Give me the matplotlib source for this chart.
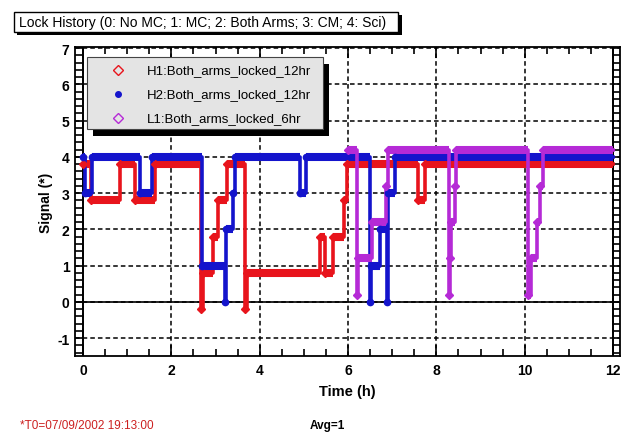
import numpy as np
import matplotlib
matplotlib.use("Agg")
import matplotlib.pyplot as plt
from matplotlib.patches import Rectangle
from matplotlib.ticker import MultipleLocator

plt.rcParams['font.family'] = ['Liberation Sans', 'DejaVu Sans']
plt.rcParams['axes.unicode_minus'] = False

# lock state changes: time (h) and the state entered at that time
h1_t = [0.0, 0.18, 0.84, 1.18, 1.63, 2.67, 2.71, 2.94, 3.06, 3.26, 3.67, 3.72,
        5.37, 5.49, 5.66, 5.90, 5.97, 7.58, 7.75]
h1_state = [4, 3, 4, 3, 4, 0, 1, 2, 3, 4, 0, 1, 2, 1, 2, 3, 4, 3, 4]

h2_t = [0.0, 0.05, 0.20, 1.29, 1.56, 2.69, 3.21, 3.23, 3.39, 3.44, 4.91, 5.05,
        6.50, 6.52, 6.72, 6.88, 6.90, 7.06]
h2_state = [4, 3, 4, 3, 4, 1, 0, 2, 3, 4, 3, 4, 0, 1, 2, 0, 3, 4]

l1_t = [6.0, 6.20, 6.23, 6.55, 6.85, 6.90, 8.29, 8.31, 8.34, 8.42, 8.45,
        10.07, 10.15, 10.28, 10.35, 10.41]
l1_state = [4, 0, 1, 2, 3, 4, 0, 1, 2, 3, 4, 0, 1, 2, 3, 4]

t_end = 12.0
series_names = ['H1:Both_arms_locked_12hr', 'H2:Both_arms_locked_12hr',
                'L1:Both_arms_locked_6hr']
shifts = [-0.2, 0.0, 0.2]   # small vertical offsets so the traces don't hide each other
colors = ['#e8141c', '#1414cc', '#b52ad6']
markers = ['D', 'o', 'D']

W, H = 623, 435
fig = plt.figure(figsize=(W / 100, H / 100), dpi=100)


def fx(px):
    return px / W


def fy(py):
    return 1 - py / H


ax = fig.add_axes([fx(75), fy(357), fx(620) - fx(75), fy(48) - fy(357)])
ax.set_xlim(-0.181, 12.158)
ax.set_ylim(-1.49, 7.03)


def draw_lock(times, states, shift, color, marker):
    t = np.append(times, t_end)
    v = np.append(states, states[-1]) + shift
    ax.plot(t, v, drawstyle='steps-post', color=color, lw=2.6, zorder=3)
    ax.hlines(v[:-1], t[:-1], t[1:], color=color, lw=5.8, zorder=3)
    ax.plot(times, np.array(states) + shift, ls='none', marker=marker, ms=4.5,
            color=color, zorder=4)


for tt, ss, sh, c, m in zip([h1_t, h2_t, l1_t], [h1_state, h2_state, l1_state],
                            shifts, colors, markers):
    draw_lock(tt, ss, sh, c, m)

# grid, with solid lines at the axis origin
ax.xaxis.set_major_locator(MultipleLocator(2))
ax.xaxis.set_minor_locator(MultipleLocator(0.5))
ax.yaxis.set_major_locator(MultipleLocator(1))
ax.yaxis.set_minor_locator(MultipleLocator(0.2))
ax.grid(True, color='black', ls=(0, (3, 2)), lw=1.1, zorder=1)
ax.axhline(0, color='black', lw=1.2, zorder=2)
ax.axvline(0, color='black', lw=1.4, zorder=2)
ax.axvline(12, color='black', lw=1.4, zorder=2)

ax.tick_params(axis='x', which='both', direction='in', top=True, width=1.2,
               labelsize=10, pad=5)
ax.tick_params(axis='x', which='major', length=8)
ax.tick_params(axis='x', which='minor', length=5)
ax.tick_params(axis='y', which='both', direction='in', right=True, length=5.8,
               width=1.2, labelsize=10, pad=4)
for lab in ax.get_xticklabels() + ax.get_yticklabels():
    lab.set_fontweight('bold')
for sp in ax.spines.values():
    sp.set_linewidth(1.3)

ax.set_xlabel('Time (h)', fontsize=10.5, fontweight='bold', labelpad=5)
ax.set_ylabel('Signal (*)', fontsize=10, fontweight='bold', labelpad=3)

# title box with drop shadow
fig.patches.append(Rectangle((fx(17), fy(36)), fx(402) - fx(17), fy(16) - fy(36),
                             transform=fig.transFigure, facecolor='black',
                             edgecolor='none', zorder=1))
fig.patches.append(Rectangle((fx(14), fy(33)), fx(398) - fx(14), fy(13) - fy(33),
                             transform=fig.transFigure, facecolor='white',
                             edgecolor='black', lw=1.0, zorder=2))
fig.text(fx(19), fy(23), 'Lock History (0: No MC; 1: MC; 2: Both Arms; 3: CM; 4: Sci)',
         fontsize=10, va='center', ha='left', zorder=3)

# legend box with drop shadow
ax.add_patch(Rectangle((fx(93), fy(137)), fx(329) - fx(93), fy(65) - fy(137),
                       transform=fig.transFigure, facecolor='black',
                       edgecolor='none', zorder=6))
ax.add_patch(Rectangle((fx(87), fy(130)), fx(323) - fx(87), fy(58) - fy(130),
                       transform=fig.transFigure, facecolor='#e4e4e4',
                       edgecolor='#444444', lw=0.8, zorder=7))
for i, (name, c, m) in enumerate(zip(series_names, colors, markers)):
    y = fy(71 + 24 * i)
    filled = m == 'o'
    ax.plot([fx(118)], [y], transform=fig.transFigure, marker=m,
            ms=4 if filled else 5, color=c,
            mfc=c if filled else 'none', mew=1.0, zorder=8)
    ax.text(fx(147), y, name, transform=fig.transFigure, fontsize=9.5,
            va='center', ha='left', zorder=8)

fig.text(fx(20), fy(426), '*T0=07/09/2002 19:13:00', color='#cc2020',
         fontsize=8.5, va='center', ha='left')
fig.text(fx(310), fy(426), 'Avg=1', fontsize=8.5, fontweight='bold',
         va='center', ha='left')

fig.savefig('out.png', dpi=100)
